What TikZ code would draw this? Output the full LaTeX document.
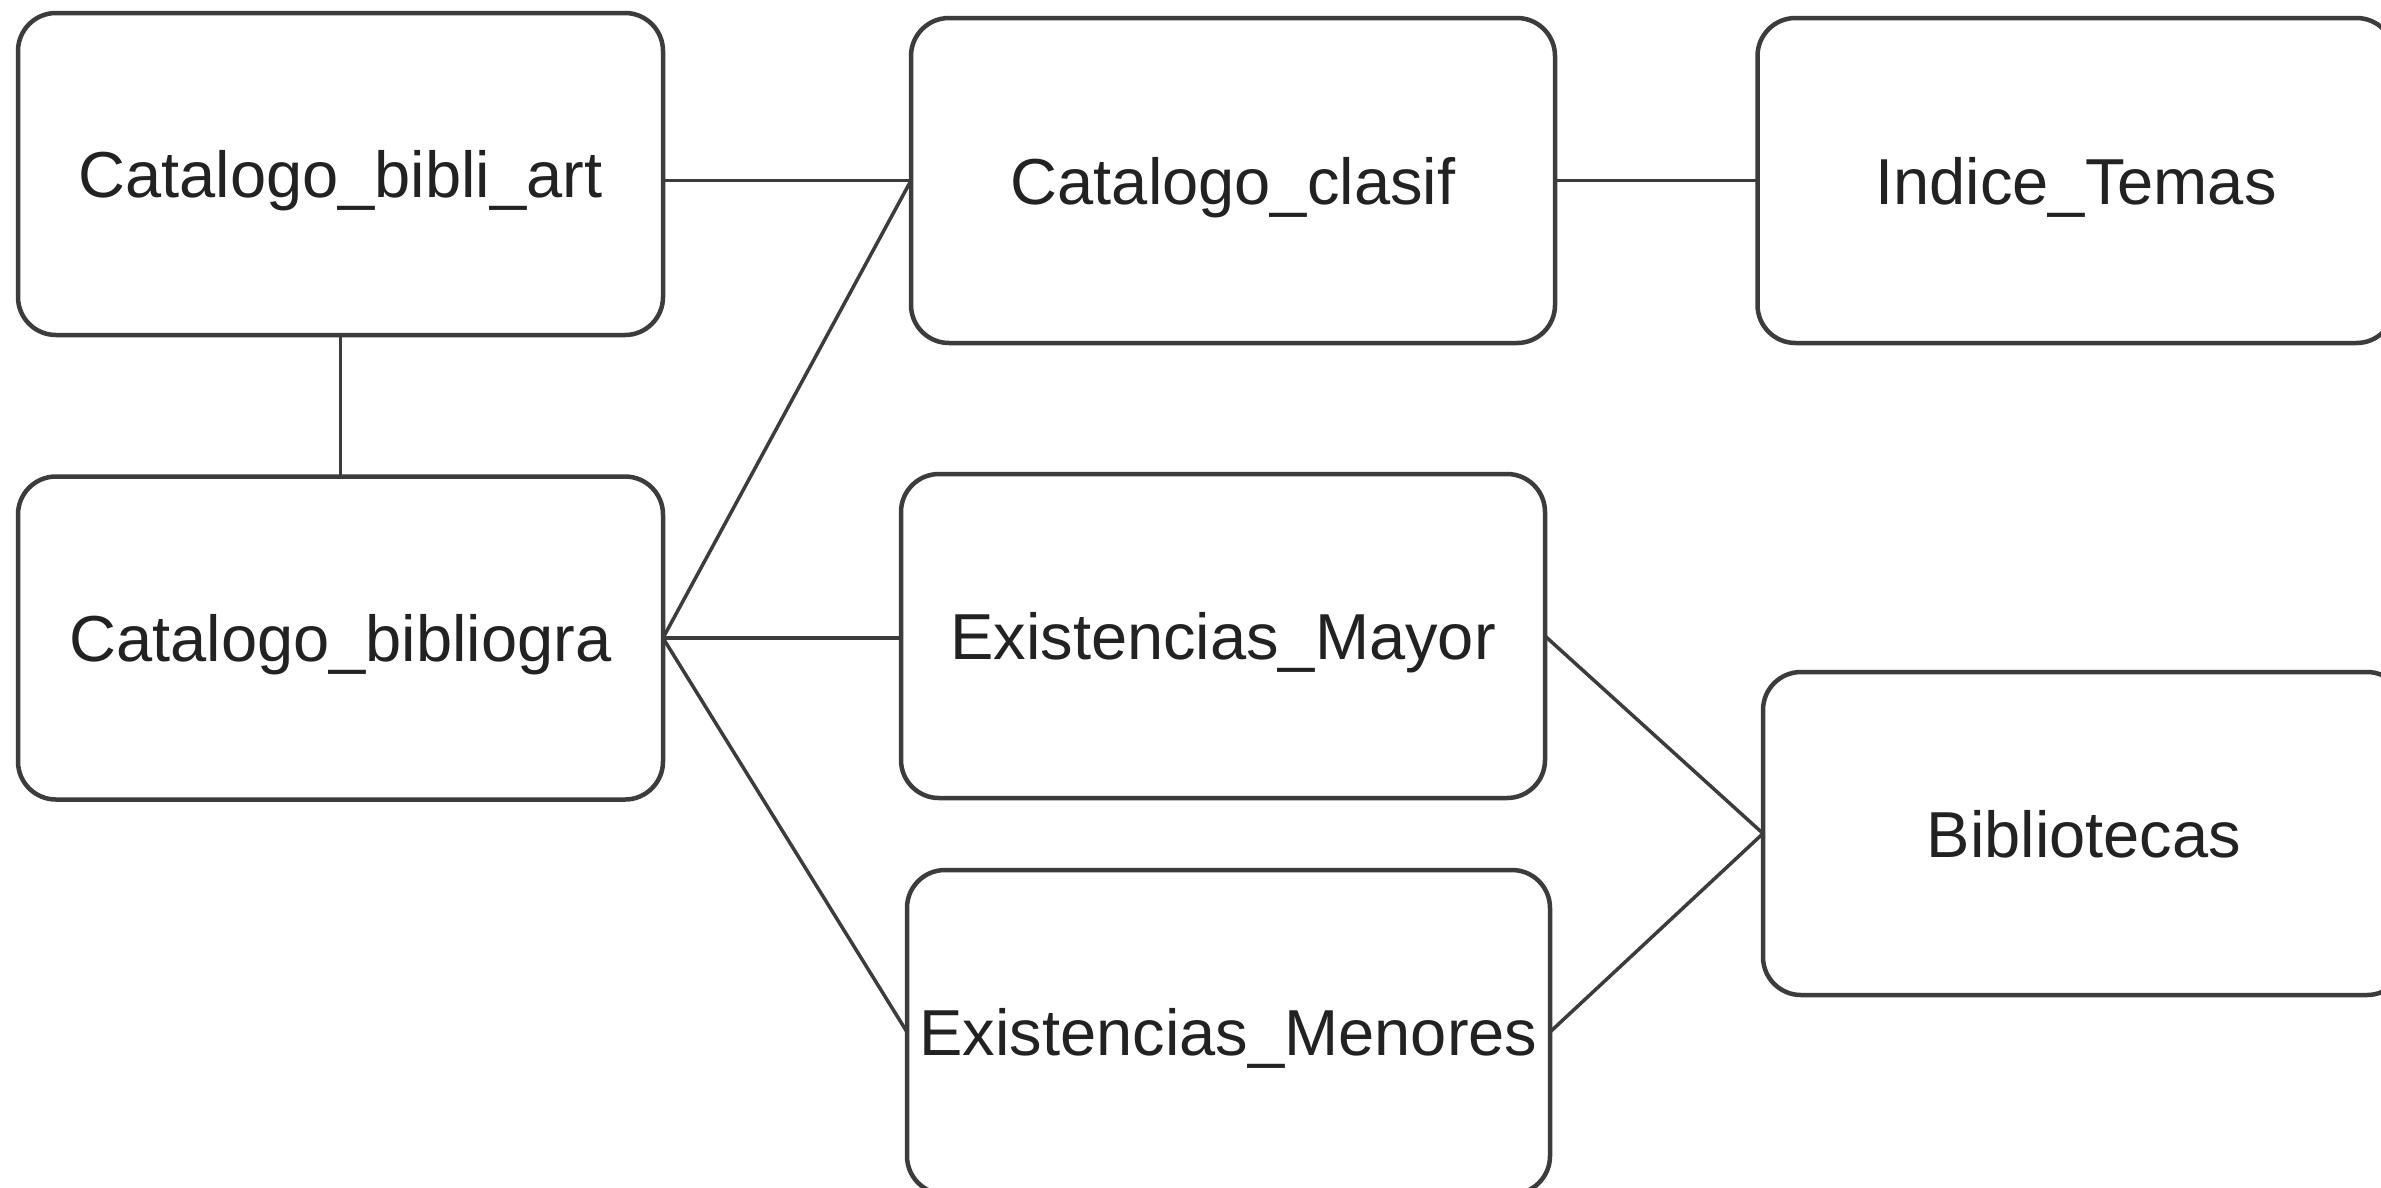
\documentclass[tikz,border=0pt]{standalone}
\usepackage{fontspec}
\setmainfont{Liberation Sans}
\definecolor{edge}{HTML}{3C3C3C}
\definecolor{txt}{HTML}{222222}
\begin{document}
\begin{tikzpicture}[x=1pt,y=-1pt,
  entity/.style={draw=edge, line width=4.5pt, fill=white, rounded corners=38pt,
    inner sep=0pt, outer sep=0pt, text=txt, text depth=0pt,
    font=\fontsize{65}{78}\selectfont},
  link/.style={draw=edge, line width=3.5pt}]
\useasboundingbox[fill=white] (0,0) rectangle (2381,1187);
\node[entity, minimum width=645pt, minimum height=322pt] (bibliart) at (340.5,174) {Catalogo\_bibli\_art};
\node[entity, minimum width=644pt, minimum height=325pt] (clasif) at (1233,180.5) {Catalogo\_clasif};
\node[entity, minimum width=637pt, minimum height=325pt] (indice) at (2076,180.5) {Indice\_Temas};
\node[entity, minimum width=645pt, minimum height=323pt] (bibliogra) at (340.5,638) {Catalogo\_bibliogra};
\node[entity, minimum width=644pt, minimum height=324pt] (mayor) at (1223,636) {Existencias\_Mayor};
\node[entity, minimum width=642pt, minimum height=323pt] (biblio) at (2084,833.5) {Bibliotecas};
\node[entity, minimum width=643pt, minimum height=324pt] (menores) at (1228.5,1032) {Existencias\_Menores};
\draw[link] (bibliart.east |- clasif.west) -- (clasif.west);
\draw[link] (bibliart.south) -- (bibliogra.north);
\draw[link] (bibliogra.east) -- (clasif.west);
\draw[link] (bibliogra.east) -- (bibliogra.east -| mayor.west);
\draw[link] (bibliogra.east) -- (menores.west);
\draw[link] (clasif.east) -- (indice.west);
\draw[link] (mayor.east) -- (biblio.west);
\draw[link] (menores.east) -- (biblio.west);
\end{tikzpicture}
\end{document}
